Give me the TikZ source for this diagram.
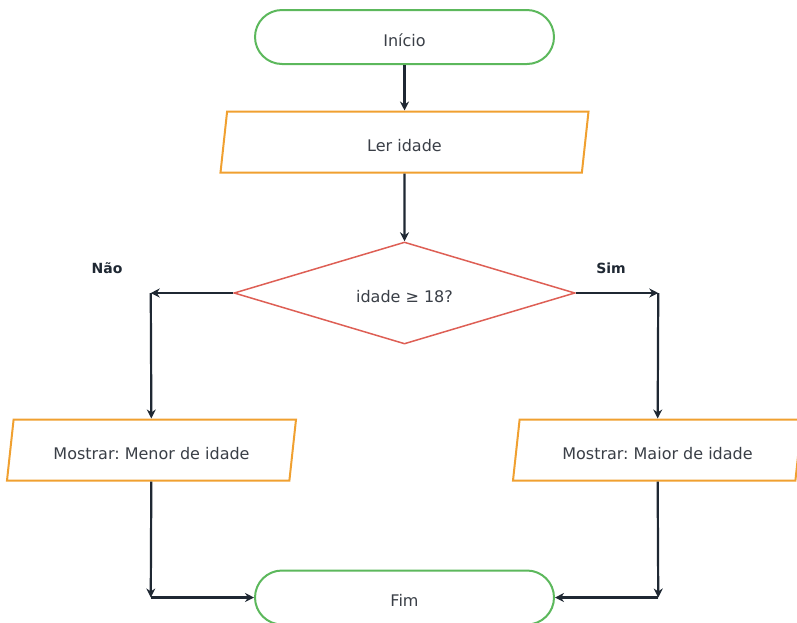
\documentclass[tikz,border=0pt]{standalone}
\usepackage{fontspec}
\setmainfont{DejaVu Sans}
\usepackage{tikz}
\usetikzlibrary{shapes.geometric, arrows.meta, positioning}
\frenchspacing
\definecolor{termgreen}{HTML}{5CB85C}
\definecolor{ioorange}{HTML}{F0A030}
\definecolor{decred}{HTML}{DE5F55}
\definecolor{inktext}{HTML}{3A3F47}
\definecolor{inkline}{HTML}{1F2833}
\tikzset{
  termbox/.style={rectangle, rounded corners=27pt, draw=termgreen, line width=2pt,
                  fill=white, minimum width=299pt, minimum height=54pt, text=inktext,
                  text height=18pt, text depth=0pt},
  iobox/.style={trapezium, trapezium left angle=75, trapezium right angle=105,
                trapezium stretches body, draw=ioorange, line width=2pt,
                fill=white, minimum height=61pt, text=inktext,
                text height=18pt, text depth=0pt},
  decbox/.style={diamond, aspect=3.3, inner sep=0pt, draw=decred, line width=1.5pt,
                 fill=white, minimum width=341pt, minimum height=102pt, text=inktext,
                 text height=18pt, text depth=0pt},
  arrow/.style={-{Stealth[length=9pt,width=9pt]}, line width=2.2pt, draw=inkline},
  branch/.style={font=\bfseries\fontsize{14}{17}\selectfont, text=inkline},
}
\begin{document}
\begin{tikzpicture}[x=1pt, y=-1pt, font=\fontsize{16}{19}\selectfont]
    \useasboundingbox (0,0) rectangle (797,622);
    \node[termbox] (inicio) at (404.5,37) {Início};
    \node[iobox, minimum width=368pt] (ler) at (404.5,142) {Ler idade};
    \node[decbox] (idade) at (404.5,293) {idade ≥ 18?};
    \coordinate[left=82.5pt of idade.west] (naoA);
    \coordinate[right=82.5pt of idade.east] (simA);
    \node[iobox, minimum width=289pt] (menor) at (151.5,450) {Mostrar: Menor de idade};
    \node[iobox, minimum width=289pt] (maior) at (657.5,450) {Mostrar: Maior de idade};
    \node[termbox] (fim) at (404.5,597.5) {Fim};
    \coordinate (naoB) at (naoA |- fim);
    \coordinate (simB) at (simA |- fim);
    \node[branch] (nao) at (107,268) {Não};
    \node[branch] (sim) at (611,268) {Sim};
    \draw[arrow] (inicio) -- (ler);
    \draw[arrow] (ler) -- (idade);
    \draw[arrow] (idade.west) -- (naoA);
    \draw[arrow] (naoA) -- (menor);
    \draw[arrow] (idade.east) -- (simA);
    \draw[arrow] (simA) -- (maior);
    \draw[arrow] (menor) -- (naoB);
    \draw[arrow] (naoB) -- (fim);
    \draw[arrow] (maior) -- (simB);
    \draw[arrow] (simB) -- (fim);
\end{tikzpicture}
\end{document}
